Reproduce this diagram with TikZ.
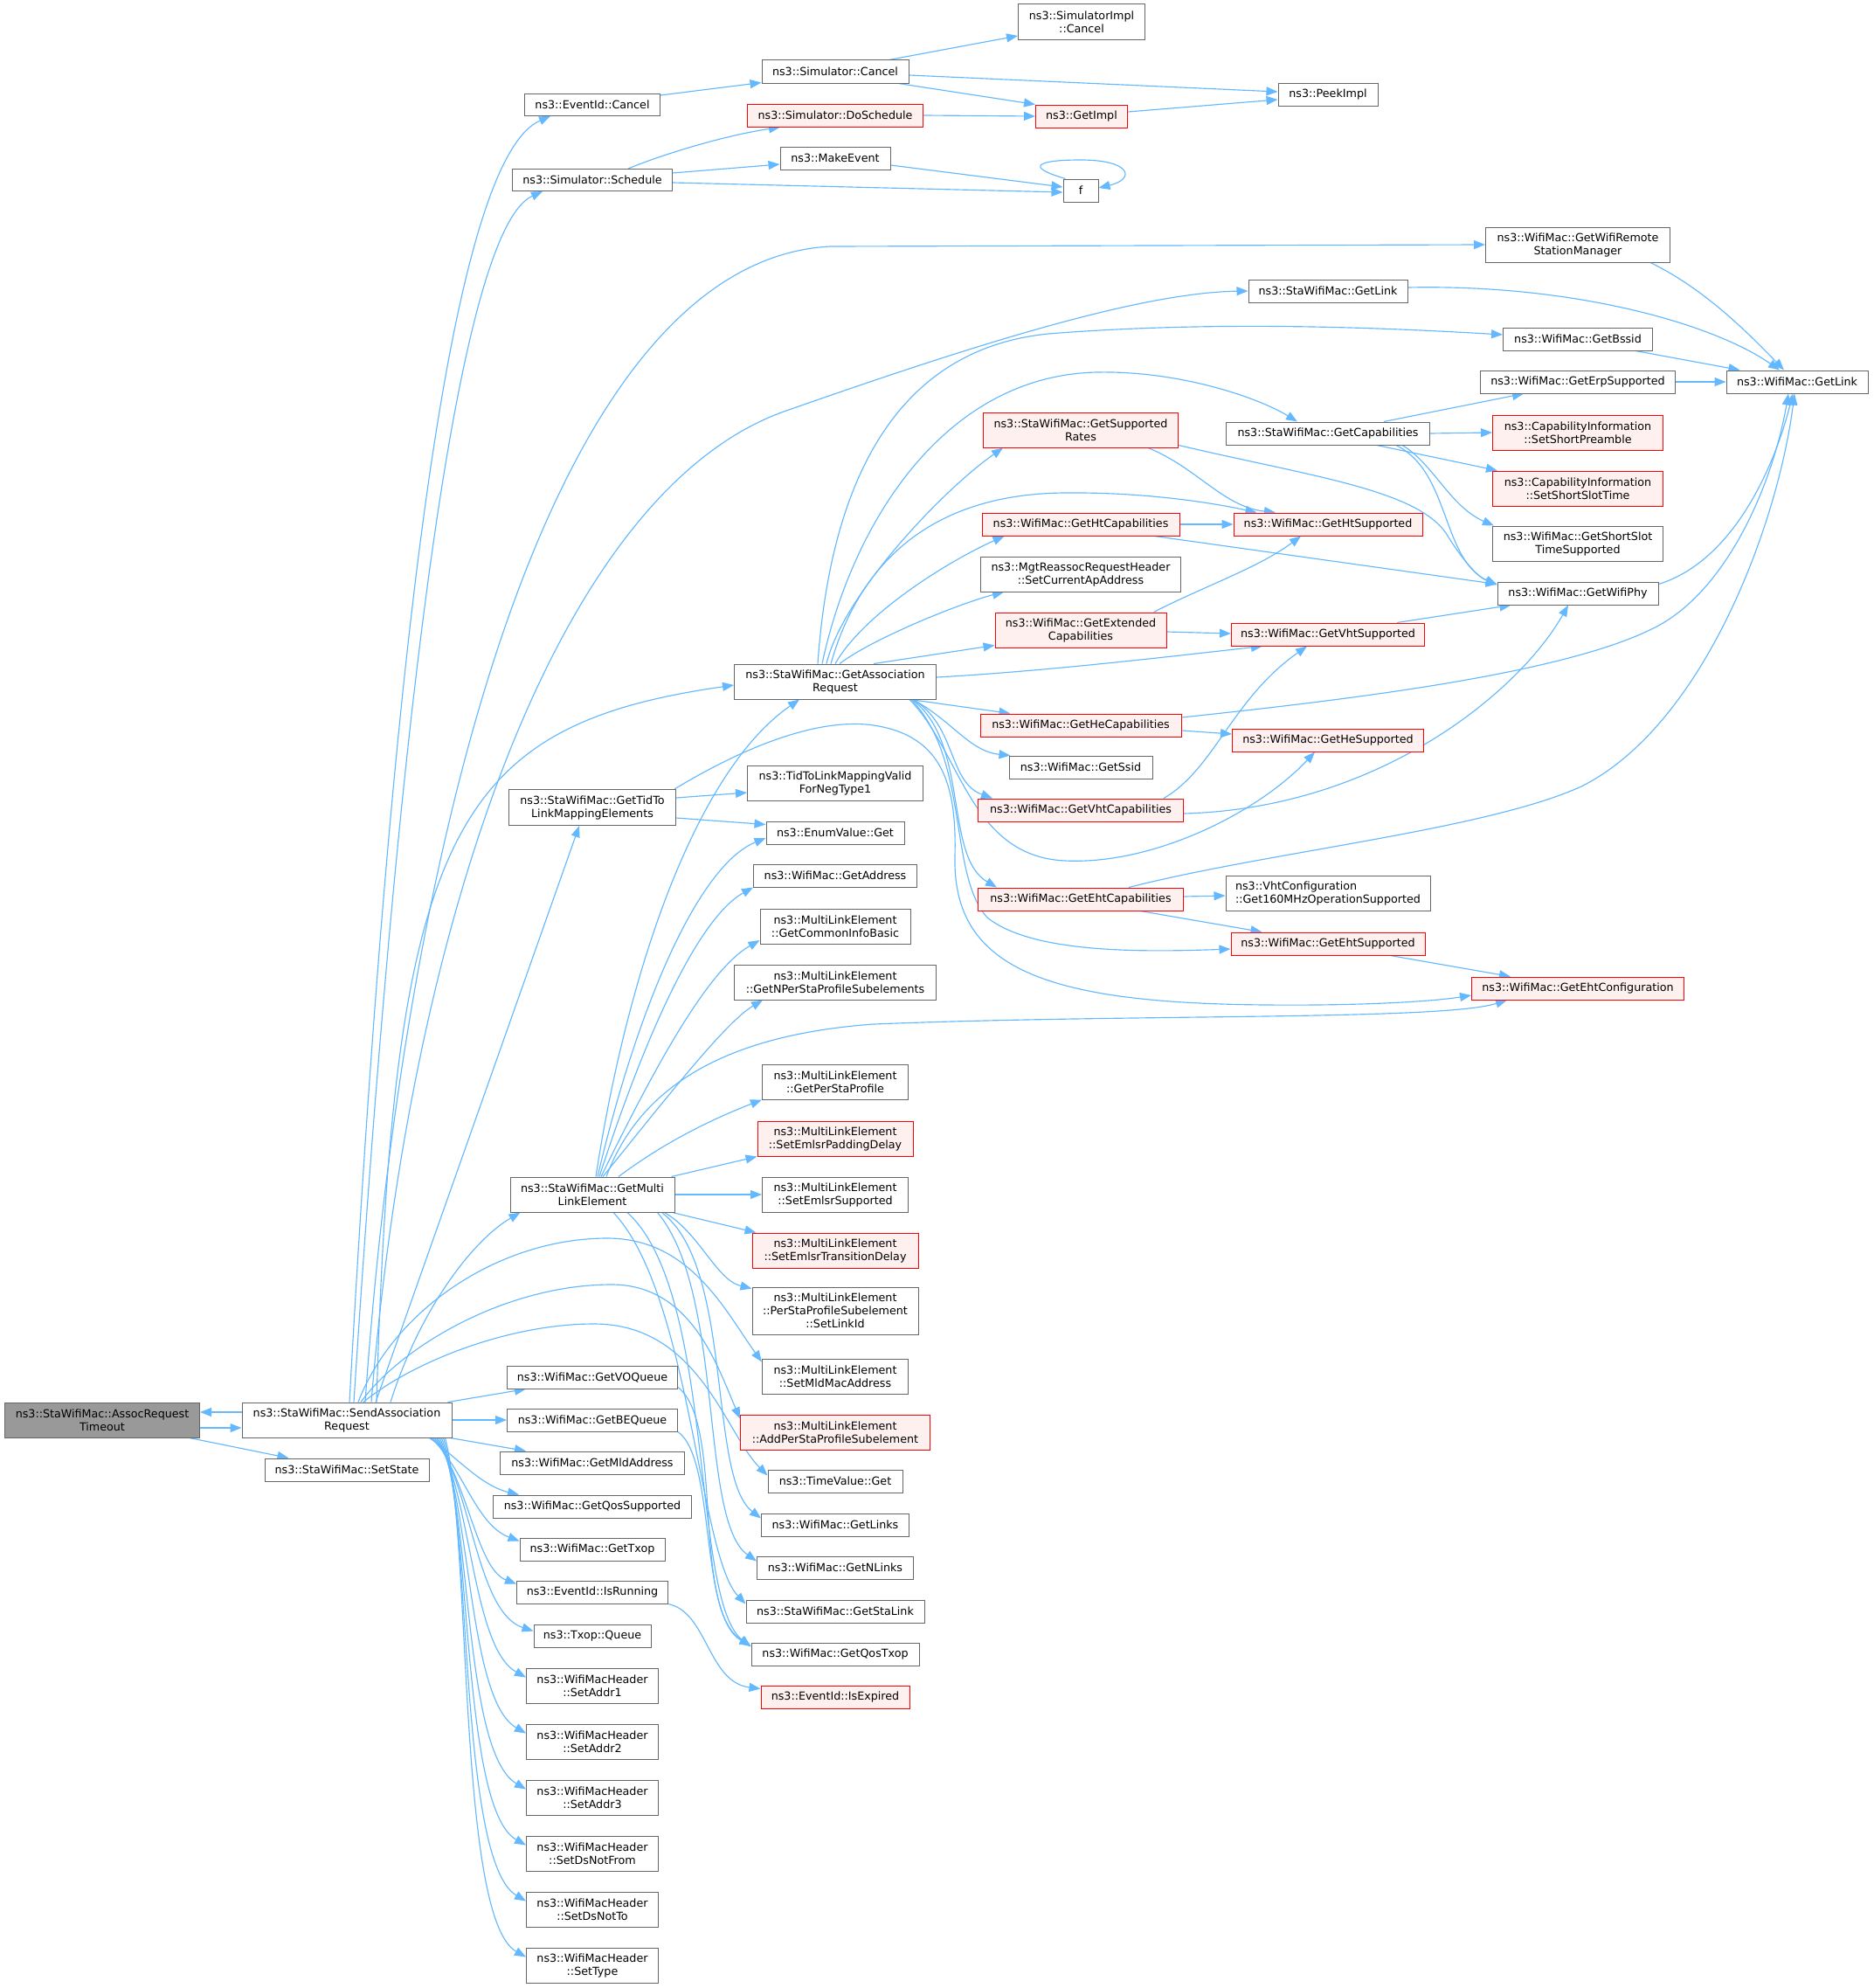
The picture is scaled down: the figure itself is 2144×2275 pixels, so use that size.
\documentclass[tikz,border=0pt]{standalone}
\usepackage{fontspec}
\setmainfont{DejaVu Sans}
\usetikzlibrary{arrows.meta}
\definecolor{edgec}{HTML}{63B8FF}
\definecolor{nodeb}{HTML}{666666}
\definecolor{redfill}{HTML}{FFF0F0}
\definecolor{rootfill}{HTML}{999999}
\definecolor{redb}{HTML}{FF0000}
\pgfdeclarelayer{bg}
\pgfsetlayers{bg,main}
\newcommand\mknode[7][]{\node[box,#1,minimum width=#5pt,minimum height=#6pt] (#2) at (#3,#4) {#7};}
\begin{document}
\begin{tikzpicture}[x=1pt,y=-1pt,
 box/.style={draw=nodeb,line width=1pt,fill=white,inner sep=2pt,align=center,text=black,font=\fontsize{12.7pt}{15pt}\selectfont},
 rednode/.style={draw=redb,fill=redfill},
 rootnode/.style={fill=rootfill},
 e/.style={draw=edgec,line width=1.15pt,-{Triangle[length=13pt,width=10pt]}}]
\useasboundingbox (0,0) rectangle (2144,2275);
% column 0/1
\mknode[rootnode]{A}{117}{1625}{223}{40}{ns3::StaWifiMac::AssocRequest\\Timeout}
\mknode{S}{397}{1625}{240}{40}{ns3::StaWifiMac::SendAssociation\\Request}
\mknode{setstate}{397}{1682}{188}{26}{ns3::StaWifiMac::SetState}
% column 2
\mknode{evc}{678}{120}{155}{25}{ns3::EventId::Cancel}
\mknode{sched}{678}{206}{183}{25}{ns3::Simulator::Schedule}
\mknode{T}{678}{924}{191}{41}{ns3::StaWifiMac::GetTidTo\\LinkMappingElements}
\mknode{M}{678}{1367}{188}{40}{ns3::StaWifiMac::GetMulti\\LinkElement}
\mknode{voq}{678}{1576}{195}{26}{ns3::WifiMac::GetVOQueue}
\mknode{beq}{678}{1625}{195}{26}{ns3::WifiMac::GetBEQueue}
\mknode{mldaddr}{678}{1674}{211}{26}{ns3::WifiMac::GetMldAddress}
\mknode{qossup}{678}{1724}{227}{26}{ns3::WifiMac::GetQosSupported}
\mknode{txop}{678}{1773}{166}{26}{ns3::WifiMac::GetTxop}
\mknode{isrun}{678}{1822}{173}{26}{ns3::EventId::IsRunning}
\mknode{queue}{678}{1872}{134}{26}{ns3::Txop::Queue}
\mknode{sa1}{678}{1929}{151}{40}{ns3::WifiMacHeader\\::SetAddr1}
\mknode{sa2}{678}{1993}{151}{40}{ns3::WifiMacHeader\\::SetAddr2}
\mknode{sa3}{678}{2057}{151}{40}{ns3::WifiMacHeader\\::SetAddr3}
\mknode{dsfrom}{678}{2121}{151}{40}{ns3::WifiMacHeader\\::SetDsNotFrom}
\mknode{dsto}{678}{2185}{151}{40}{ns3::WifiMacHeader\\::SetDsNotTo}
\mknode{settype}{678}{2249}{151}{40}{ns3::WifiMacHeader\\::SetType}
% column 3
\mknode{simcancel}{956}{82}{168}{26}{ns3::Simulator::Cancel}
\mknode[rednode]{dosched}{956}{132}{201}{26}{ns3::Simulator::DoSchedule}
\mknode{makeevent}{956}{181}{126}{26}{ns3::MakeEvent}
\mknode{R}{956}{780}{231}{40}{ns3::StaWifiMac::GetAssociation\\Request}
\mknode{tidvalid}{956}{896}{201}{40}{ns3::TidToLinkMappingValid\\ForNegType1}
\mknode{enumget}{956}{953}{158}{26}{ns3::EnumValue::Get}
\mknode{getaddr}{956}{1002}{187}{26}{ns3::WifiMac::GetAddress}
\mknode{commoninfo}{956}{1060}{172}{40}{ns3::MultiLinkElement\\::GetCommonInfoBasic}
\mknode{nper}{956}{1124}{231}{40}{ns3::MultiLinkElement\\::GetNPerStaProfileSubelements}
\mknode{perstaprof}{956}{1238}{167}{40}{ns3::MultiLinkElement\\::GetPerStaProfile}
\mknode[rednode]{padding}{956}{1303}{178}{40}{ns3::MultiLinkElement\\::SetEmlsrPaddingDelay}
\mknode{emlsrsup}{956}{1367}{167}{40}{ns3::MultiLinkElement\\::SetEmlsrSupported}
\mknode[rednode]{transdelay}{956}{1431}{190}{40}{ns3::MultiLinkElement\\::SetEmlsrTransitionDelay}
\mknode{setlinkid}{956}{1500}{190}{54}{ns3::MultiLinkElement\\::PerStaProfileSubelement\\::SetLinkId}
\mknode{setmld}{956}{1575}{167}{40}{ns3::MultiLinkElement\\::SetMldMacAddress}
\mknode[rednode]{addper}{956}{1639}{217}{40}{ns3::MultiLinkElement\\::AddPerStaProfileSubelement}
\mknode{timeget}{956}{1695}{154}{26}{ns3::TimeValue::Get}
\mknode{getlinks}{956}{1745}{169}{26}{ns3::WifiMac::GetLinks}
\mknode{getnlinks}{956}{1794}{179}{26}{ns3::WifiMac::GetNLinks}
\mknode{getstalink}{956}{1844}{204}{26}{ns3::StaWifiMac::GetStaLink}
\mknode{qostxop}{956}{1893}{192}{26}{ns3::WifiMac::GetQosTxop}
\mknode[rednode]{isexpired}{956}{1942}{170}{26}{ns3::EventId::IsExpired}
% column 4
\mknode{simimpl}{1238}{25}{145}{41}{ns3::SimulatorImpl\\::Cancel}
\mknode[rednode]{getimpl}{1238}{133}{105}{26}{ns3::GetImpl}
\mknode{f}{1237}{218}{40}{26}{f}
\mknode[rednode]{suprates}{1237}{492}{223}{40}{ns3::StaWifiMac::GetSupported\\Rates}
\mknode[rednode]{htcap}{1237}{600}{226}{26}{ns3::WifiMac::GetHtCapabilities}
\mknode{setcurap}{1237}{657}{229}{40}{ns3::MgtReassocRequestHeader\\::SetCurrentApAddress}
\mknode[rednode]{extcap}{1237}{721}{196}{40}{ns3::WifiMac::GetExtended\\Capabilities}
\mknode[rednode]{hecap}{1237}{830}{230}{26}{ns3::WifiMac::GetHeCapabilities}
\mknode{ssid}{1237}{878}{164}{26}{ns3::WifiMac::GetSsid}
\mknode[rednode]{vhtcap}{1237}{927}{235}{26}{ns3::WifiMac::GetVhtCapabilities}
\mknode[rednode]{ehtcap}{1237}{1029}{235}{26}{ns3::WifiMac::GetEhtCapabilities}
% column 5
\mknode{peekimpl}{1520}{108}{114}{26}{ns3::PeekImpl}
\mknode{stagl}{1520}{333}{182}{26}{ns3::StaWifiMac::GetLink}
\mknode{getcaps}{1520}{496}{233}{26}{ns3::StaWifiMac::GetCapabilities}
\mknode[rednode]{htsup}{1520}{600}{216}{26}{ns3::WifiMac::GetHtSupported}
\mknode[rednode]{vhtsup}{1520}{726}{221}{26}{ns3::WifiMac::GetVhtSupported}
\mknode[rednode]{hesup}{1520}{847}{219}{26}{ns3::WifiMac::GetHeSupported}
\mknode[align=left]{get160}{1520}{1022}{234}{40}{ns3::VhtConfiguration\\::Get160MHzOperationSupported}
\mknode[rednode]{ehtsup}{1520}{1080}{222}{26}{ns3::WifiMac::GetEhtSupported}
% column 6
\mknode{wrsm}{1806}{280}{211}{40}{ns3::WifiMac::GetWifiRemote\\StationManager}
\mknode{bssid}{1806}{388}{171}{26}{ns3::WifiMac::GetBssid}
\mknode{erp}{1806}{437}{223}{26}{ns3::WifiMac::GetErpSupported}
\mknode[rednode]{shortpre}{1806}{495}{195}{40}{ns3::CapabilityInformation\\::SetShortPreamble}
\mknode[rednode]{shortslot}{1806}{559}{195}{40}{ns3::CapabilityInformation\\::SetShortSlotTime}
\mknode{shortslotsup}{1806}{622}{195}{40}{ns3::WifiMac::GetShortSlot\\TimeSupported}
\mknode{wifiphy}{1806}{679}{184}{26}{ns3::WifiMac::GetWifiPhy}
\mknode[rednode]{ehtconf}{1806}{1131}{243}{26}{ns3::WifiMac::GetEhtConfiguration}
% column 7
\mknode{wgetlink}{2057}{437}{162}{26}{ns3::WifiMac::GetLink}

\begin{pgfonlayer}{bg}
% root
\draw[e] ([yshift=9pt]S.west) -- ([yshift=9pt]A.east);
\draw[e] ([yshift=-9pt]A.east) -- ([yshift=-9pt]S.west);
\draw[e] ([xshift=-12pt]A.south east) -- ([xshift=28pt]setstate.north west);
% S upward
\draw[e] ([xshift=3pt]S.north) .. controls (450,700) and (520,180) .. ([xshift=30pt]evc.south west);
\draw[e] ([xshift=8pt]S.north) .. controls (460,750) and (530,260) .. ([xshift=35pt]sched.south west);
\draw[e] ([xshift=21pt]S.north) .. controls (460,1000) and (620,300) .. (950,282) -- (wrsm.west);
\draw[e] ([xshift=28pt]S.north) .. controls (470,1050) and (640,560) .. (900,470) .. controls (1100,400) and (1300,335) .. (stagl.west);
\draw[e] ([xshift=34pt]S.north) .. controls (450,950) and (520,830) .. ([yshift=-4pt]R.west);
\draw[e] ([xshift=33pt]S.north) -- ([xshift=-15pt]T.south);
\draw[e] ([xshift=50pt]S.north) .. controls (480,1500) and (540,1420) .. ([xshift=12pt]M.south west);
\draw[e] ([xshift=13pt]S.north) .. controls (450,1500) and (570,1417) .. (695,1417) .. controls (790,1417) and (830,1500) .. ([yshift=-4pt]setmld.north west);
\draw[e] ([xshift=16pt]S.north) .. controls (460,1540) and (580,1470) .. (700,1470) .. controls (790,1470) and (820,1560) .. ([yshift=-5pt]addper.north west);
\draw[e] ([xshift=19pt]S.north) .. controls (470,1560) and (580,1515) .. (680,1515) .. controls (800,1515) and (830,1640) .. ([yshift=-7pt]timeget.north west);
% S downward fan
\draw[e] ([xshift=-5pt]S.north east) -- ([xshift=22pt]voq.south west);
\draw[e] (S.east) -- (beq.west);
\draw[e] ([xshift=-2pt]S.south east) -- ([xshift=30pt]mldaddr.north west);
\draw[e] ([xshift=-26pt]S.south east) .. controls (520,1665) and (550,1700) .. ([xshift=30pt]qossup.north west);
\draw[e] ([xshift=-24pt]S.south east) .. controls (530,1680) and (545,1745) .. ([yshift=-4pt]txop.north west);
\draw[e] ([xshift=-22pt]S.south east) .. controls (535,1690) and (545,1795) .. ([yshift=-4pt]isrun.north west);
\draw[e] ([xshift=-20pt]S.south east) .. controls (540,1700) and (545,1845) .. ([yshift=-8pt]queue.north west);
\draw[e] ([xshift=-18pt]S.south east) .. controls (540,1710) and (540,1885) .. ([yshift=-11pt]sa1.north west);
\draw[e] ([xshift=-16pt]S.south east) .. controls (540,1720) and (535,1945) .. ([yshift=-11pt]sa2.north west);
\draw[e] ([xshift=-14pt]S.south east) .. controls (540,1730) and (530,2005) .. ([yshift=-11pt]sa3.north west);
\draw[e] ([xshift=-12pt]S.south east) .. controls (540,1740) and (528,2070) .. ([yshift=-11pt]dsfrom.north west);
\draw[e] ([xshift=-10pt]S.south east) .. controls (540,1750) and (525,2130) .. ([yshift=-11pt]dsto.north west);
\draw[e] ([xshift=-8pt]S.south east) .. controls (540,1760) and (523,2195) .. ([yshift=-11pt]settype.north west);
% M
\draw[e] ([xshift=4pt]M.north) .. controls (720,1100) and (800,880) .. ([xshift=-41pt]R.south);
\draw[e] ([xshift=6pt]M.north) .. controls (730,1150) and (800,990) .. ([yshift=-6pt]enumget.west);
\draw[e] ([xshift=8pt]M.north) .. controls (740,1180) and (800,1050) .. (getaddr.south west);
\draw[e] ([xshift=10pt]M.north) .. controls (750,1220) and (810,1110) .. ([yshift=-16pt]commoninfo.west);
\draw[e] ([xshift=12pt]M.north) .. controls (760,1260) and (830,1170) .. ([xshift=33pt]nper.south west);
\draw[e] ([xshift=16pt]M.north) .. controls (730,1250) and (820,1185) .. (1000,1172) .. controls (1300,1160) and (1650,1168) .. ([xshift=41pt]ehtconf.south west);
\draw[e] ([xshift=30pt]M.north) .. controls (770,1300) and (830,1275) .. (perstaprof.south west);
\draw[e] ([xshift=-4pt]M.north east) -- (padding.south west);
\draw[e] (M.east) -- (emlsrsup.west);
\draw[e] ([xshift=-3pt]M.south east) -- ([xshift=5pt]transdelay.north west);
\draw[e] ([xshift=-12pt]M.south east) .. controls (800,1410) and (820,1465) .. ([yshift=-2pt]setlinkid.north west);
\draw[e] ([xshift=-15pt]M.south east) .. controls (840,1450) and (810,1690) .. ([yshift=-6pt]getlinks.north west);
\draw[e] ([xshift=-20pt]M.south east) .. controls (830,1480) and (800,1740) .. ([yshift=-6pt]getnlinks.north west);
\draw[e] ([xshift=24pt]M.south) .. controls (790,1480) and (800,1780) .. ([yshift=-5pt]getstalink.north west);
\draw[e] ([xshift=40pt]M.south) .. controls (820,1480) and (790,1830) .. ([yshift=-5pt]qostxop.north west);
\draw[e] ([yshift=2pt]voq.south east) .. controls (830,1630) and (790,1840) .. ([yshift=-4pt]qostxop.north west);
\draw[e] (beq.south east) .. controls (820,1670) and (800,1850) .. ([yshift=-4pt]qostxop.north west);
\draw[e] (isrun.south east) .. controls (810,1845) and (810,1925) .. ([yshift=-4pt]isexpired.north west);
% T
\draw[e] ([yshift=-10pt]T.north east) -- ([yshift=-11pt]tidvalid.west);
\draw[e] ([yshift=9pt]T.south east) -- ([yshift=-4pt]enumget.north west);
\draw[e] ([xshift=-2pt]T.north east) .. controls (840,862) and (930,820) .. (1000,830) .. controls (1080,842) and (1095,900) .. (1093,980) .. controls (1090,1110) and (1200,1148) .. (1450,1150) .. controls (1560,1151) and (1640,1146) .. ([yshift=-8pt]ehtconf.west);
% R
\draw[e] ([xshift=-20pt]R.north) .. controls (950,560) and (1020,400) .. (1200,382) .. controls (1400,366) and (1600,376) .. ([yshift=5pt]bssid.west);
\draw[e] ([xshift=-15pt]R.north) .. controls (975,600) and (1080,430) .. (1255,426) .. controls (1350,424) and (1440,455) .. ([xshift=-35pt]getcaps.north);
\draw[e] ([xshift=-10pt]R.north) .. controls (965,680) and (1080,560) .. ([xshift=23pt]suprates.south west);
\draw[e] ([xshift=-5pt]R.north) .. controls (985,640) and (1070,565) .. (1219,564) .. controls (1320,563) and (1400,578) .. ([xshift=27pt]htsup.north west);
\draw[e] (R.north) .. controls (990,700) and (1090,640) .. ([xshift=26pt]htcap.south west);
\draw[e] ([xshift=5pt]R.north) .. controls (1000,730) and (1100,690) .. ([xshift=27pt]setcurap.south west);
\draw[e] ([xshift=44pt]R.north) -- ([yshift=3pt]extcap.south west);
\draw[e] ([yshift=5pt]R.east) .. controls (1200,768) and (1350,750) .. ([xshift=36pt]vhtsup.south west);
\draw[e] ([xshift=-30pt]R.south east) -- ([xshift=35pt]hecap.north west);
\draw[e] ([xshift=-27pt]R.south east) .. controls (1090,825) and (1110,860) .. ([xshift=2pt]ssid.north west);
\draw[e] ([xshift=-27pt]R.south east) .. controls (1095,830) and (1085,895) .. ([xshift=17pt]vhtcap.north west);
\draw[e] ([xshift=-28pt]R.south east) .. controls (1110,850) and (1080,980) .. ([xshift=22pt]ehtcap.north west);
\draw[e] ([xshift=-29pt]R.south east) .. controls (1110,870) and (1085,1000) .. (1130,1050) .. controls (1180,1090) and (1300,1090) .. ([yshift=-6pt]ehtsup.west);
\draw[e] ([xshift=-31pt]R.south east) .. controls (1100,860) and (1110,980) .. (1219,985) .. controls (1320,990) and (1440,930) .. ([xshift=-15pt]hesup.south);
% column 4/5
\draw[e] ([yshift=-6pt]hecap.east) -- ([yshift=7pt]hesup.west);
\draw[e] ([yshift=9pt]hecap.east) .. controls (1550,800) and (1800,770) .. (1900,715) .. controls (1980,670) and (2030,550) .. ([xshift=-10pt]wgetlink.south);
\draw[e] ([xshift=-23pt]vhtcap.north east) .. controls (1390,880) and (1410,800) .. ([xshift=-24pt]vhtsup.south);
\draw[e] ([yshift=-4pt]vhtcap.east) .. controls (1580,925) and (1740,790) .. ([xshift=-11pt]wifiphy.south);
\draw[e] ([xshift=55pt]ehtcap.north) .. controls (1450,975) and (1700,950) .. (1810,900) .. controls (1950,830) and (2035,600) .. ([xshift=-3pt]wgetlink.south);
\draw[e] ([yshift=3pt]ehtcap.east) -- ([yshift=-3pt]get160.west);
\draw[e] ([xshift=-50pt]ehtcap.south east) -- ([xshift=36pt]ehtsup.north west);
\draw[e] ([xshift=-40pt]ehtsup.south east) -- ([xshift=45pt]ehtconf.north west);
\draw[e] ([xshift=-15pt]extcap.north east) .. controls (1380,670) and (1440,650) .. ([xshift=-31pt]htsup.south);
\draw[e] ([yshift=-2pt]extcap.east) -- ([yshift=1pt]vhtsup.west);
\draw[e] ([xshift=-32pt]vhtsup.north east) -- ([xshift=16pt]wifiphy.south west);
\draw[e] (htcap.east) -- (htsup.west);
\draw[e] ([xshift=-29pt]htcap.south east) -- ([yshift=-3pt]wifiphy.north west);
\draw[e] ([xshift=-35pt]suprates.south east) .. controls (1370,535) and (1400,580) .. ([xshift=-60pt]htsup.north);
\draw[e] ([yshift=3pt]suprates.south east) .. controls (1500,545) and (1620,560) .. (1655,610) .. controls (1670,635) and (1690,660) .. ([yshift=-3pt]wifiphy.north west);
\draw[e] ([xshift=64pt]getcaps.north) -- ([xshift=-62pt]erp.south);
\draw[e] (getcaps.east) -- (shortpre.west);
\draw[e] ([xshift=56pt]getcaps.south) -- ([xshift=6pt]shortslot.north west);
\draw[e] ([xshift=85pt]getcaps.south) .. controls (1640,530) and (1660,580) .. ([xshift=2pt]shortslotsup.north west);
\draw[e] ([xshift=78pt]getcaps.south) .. controls (1660,540) and (1650,640) .. ([yshift=-4pt]wifiphy.north west);
% column 6/7
\draw[e] (erp.east) -- (wgetlink.west);
\draw[e] ([xshift=-20pt]bssid.south east) -- ([xshift=16pt]wgetlink.north west);
\draw[e] ([yshift=4pt]stagl.east) .. controls (1800,325) and (1960,370) .. ([xshift=-20pt]wgetlink.north);
\draw[e] ([xshift=83pt]wrsm.south) .. controls (1950,330) and (2000,380) .. ([xshift=-15pt]wgetlink.north);
\draw[e] ([yshift=-3pt]wifiphy.north east) .. controls (1990,640) and (2035,520) .. ([xshift=-5pt]wgetlink.south);
% top
\draw[e] ([yshift=11pt]evc.east) -- ([yshift=1pt]simcancel.south west);
\draw[e] ([xshift=-23pt]simcancel.north east) -- ([yshift=-16pt]simimpl.west);
\draw[e] ([yshift=-4pt]simcancel.east) -- ([yshift=3pt]peekimpl.west);
\draw[e] ([xshift=-12pt]simcancel.south east) -- (getimpl.north west);
\draw[e] (dosched.east) -- (getimpl.west);
\draw[e] ([yshift=5pt]getimpl.east) -- ([yshift=-6pt]peekimpl.west);
\draw[e] ([xshift=41pt]sched.north) .. controls (760,176) and (830,155) .. ([xshift=38pt]dosched.south west);
\draw[e] ([yshift=8pt]sched.east) -- ([yshift=-7pt]makeevent.west);
\draw[e] ([yshift=-3pt]sched.east) -- ([yshift=-2pt]f.west);
\draw[e] ([yshift=-8pt]makeevent.east) -- ([yshift=4pt]f.west);
\draw[e] ([xshift=3pt]f.north west) .. controls (1170,190) and (1190,183) .. (1237,183) .. controls (1295,183) and (1300,205) .. ([yshift=3pt]f.east);
\end{pgfonlayer}
\end{tikzpicture}
\end{document}
